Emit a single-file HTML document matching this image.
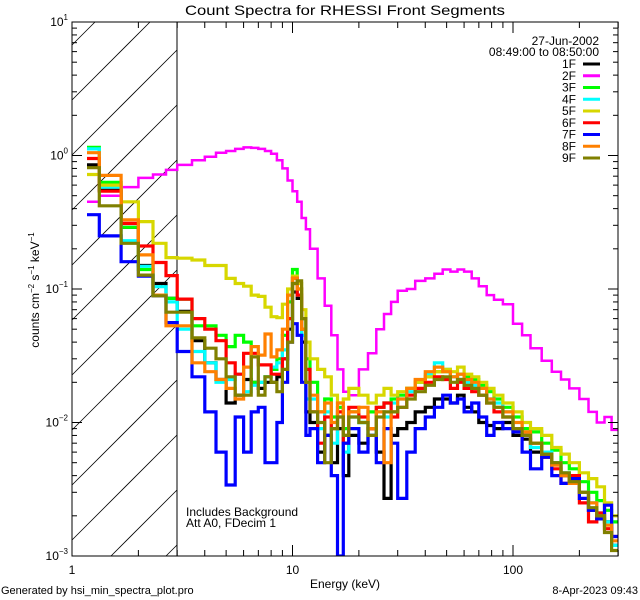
<!DOCTYPE html>
<html><head><meta charset="utf-8"><style>
html,body{margin:0;padding:0;background:#fff;width:640px;height:600px;overflow:hidden;}
svg{display:block;font-family:"Liberation Sans",sans-serif;}
</style></head><body>
<svg id="chart" width="640" height="600" viewBox="0 0 640 600" xmlns="http://www.w3.org/2000/svg">
<rect width="640" height="600" fill="#fff"/>
<text x="345" y="15" font-size="14" text-anchor="middle" textLength="320" lengthAdjust="spacingAndGlyphs">Count Spectra for RHESSI Front Segments</text>
<defs><clipPath id="pclip"><rect x="72" y="22" width="546" height="534"/></clipPath></defs>
<g id="hatch" stroke="#000" stroke-width="0.8"></g>
<line x1="177" y1="22" x2="177" y2="556" stroke="#000" stroke-width="1"/>
<g id="series" clip-path="url(#pclip)"></g>
<g id="axes" stroke="#000" stroke-width="1"></g>
<g id="labels" font-size="12"></g>
<text x="345" y="588" font-size="12" text-anchor="middle">Energy (keV)</text>
<text transform="translate(39,290) rotate(-90)" font-size="12" text-anchor="middle">counts cm<tspan font-size="8" dy="-5">−2</tspan><tspan dy="5"> s</tspan><tspan font-size="8" dy="-5">−1</tspan><tspan dy="5"> keV</tspan><tspan font-size="8" dy="-5">−1</tspan></text>
<text x="186" y="516" font-size="12">Includes Background</text>
<text x="186" y="527" font-size="12">Att A0, FDecim 1</text>
<text x="599" y="45" font-size="12" text-anchor="end">27-Jun-2002</text>
<text x="599" y="56" font-size="12" text-anchor="end">08:49:00 to 08:50:00</text>
<g id="legend" font-size="12"></g>
<text x="1" y="594" font-size="11">Generated by hsi_min_spectra_plot.pro</text>
<text x="638" y="594" font-size="11" text-anchor="end">8-Apr-2023 09:43</text>
</svg>
<script>
const edges=[1.17,1.33,1.67,2,2.33,2.67,3,3.5,4,4.5,5,5.5,6,6.5,7,7.5,8,8.5,9,9.5,10,10.5,11,11.5,12,13,14,15,16,17,18,20,22,24,26,28,30,33,36,40,44,48,52,56,60,65,70,76,82,90,100,110,120,135,150,165,180,200,220,240,260,280,300];
const seriesNames=["1F","2F","3F","4F","5F","6F","7F","8F","9F"];
const seriesColors=["#000000","#ff00ff","#00ff00","#00ffff","#d7d700","#ff0000","#0000ff","#ff8000","#808000"];
const s1F=[0.85,0.55,0.29,0.15,0.11,0.085,0.068,0.041,0.028,0.021,0.014,0.016,0.021,0.02,0.018,0.02,0.02,0.022,0.03,0.05,0.095,0.085,0.04,0.012,0.01,0.006,0.008,0.005,0.009,0.004,0.008,0.007,0.009,0.006,0.0027,0.008,0.009,0.01,0.012,0.013,0.015,0.015,0.014,0.016,0.013,0.012,0.01,0.0095,0.009,0.01,0.008,0.0075,0.006,0.0055,0.005,0.004,0.0038,0.003,0.0022,0.0019,0.0018,0.0012];
const s2F=[0.45,0.5,0.58,0.68,0.72,0.78,0.85,0.92,0.98,1.05,1.08,1.12,1.15,1.14,1.12,1.08,1.03,0.92,0.8,0.65,0.54,0.45,0.34,0.28,0.2,0.12,0.075,0.045,0.025,0.017,0.016,0.025,0.033,0.05,0.065,0.08,0.097,0.1,0.115,0.12,0.13,0.14,0.135,0.14,0.135,0.12,0.105,0.09,0.083,0.077,0.055,0.045,0.036,0.029,0.024,0.021,0.018,0.015,0.012,0.01,0.011,0.0088];
const s3F=[1.15,0.63,0.29,0.14,0.09,0.085,0.084,0.053,0.053,0.045,0.037,0.045,0.04,0.02,0.02,0.022,0.025,0.03,0.045,0.08,0.14,0.1,0.06,0.03,0.02,0.012,0.015,0.011,0.013,0.009,0.012,0.01,0.012,0.013,0.014,0.015,0.016,0.018,0.02,0.022,0.024,0.024,0.022,0.023,0.022,0.021,0.019,0.017,0.015,0.013,0.011,0.009,0.0085,0.007,0.0062,0.005,0.0045,0.0036,0.003,0.0026,0.0022,0.0018];
const s4F=[1.12,0.58,0.23,0.148,0.104,0.08,0.05,0.034,0.028,0.02,0.021,0.023,0.017,0.019,0.02,0.022,0.026,0.028,0.035,0.06,0.11,0.09,0.045,0.015,0.015,0.009,0.012,0.007,0.011,0.006,0.011,0.01,0.008,0.012,0.011,0.014,0.015,0.017,0.02,0.023,0.028,0.025,0.022,0.021,0.02,0.019,0.016,0.015,0.014,0.012,0.009,0.008,0.0065,0.006,0.005,0.0042,0.0035,0.003,0.0025,0.0021,0.0018,0.0012];
const s5F=[0.72,0.6,0.45,0.32,0.22,0.172,0.17,0.165,0.15,0.15,0.12,0.11,0.105,0.09,0.088,0.073,0.062,0.061,0.077,0.1,0.125,0.11,0.07,0.04,0.03,0.025,0.022,0.016,0.014,0.015,0.018,0.016,0.014,0.016,0.018,0.016,0.017,0.018,0.02,0.022,0.024,0.025,0.024,0.026,0.023,0.022,0.02,0.018,0.016,0.014,0.012,0.01,0.009,0.008,0.0065,0.0058,0.005,0.0042,0.0038,0.0033,0.0025,0.002];
const s6F=[0.95,0.54,0.31,0.21,0.158,0.126,0.084,0.06,0.05,0.041,0.028,0.023,0.033,0.033,0.027,0.027,0.023,0.023,0.03,0.06,0.12,0.09,0.05,0.025,0.012,0.007,0.011,0.009,0.012,0.007,0.013,0.011,0.009,0.013,0.014,0.011,0.013,0.016,0.018,0.02,0.022,0.021,0.018,0.02,0.018,0.017,0.016,0.014,0.012,0.011,0.009,0.008,0.007,0.0055,0.0045,0.0035,0.004,0.0025,0.0018,0.0021,0.0016,0.0014];
const s7F=[0.36,0.25,0.16,0.125,0.089,0.056,0.034,0.022,0.012,0.006,0.0034,0.011,0.006,0.012,0.013,0.005,0.005,0.01,0.02,0.04,0.055,0.045,0.02,0.008,0.009,0.005,0.008,0.004,0.001,0.007,0.009,0.006,0.008,0.005,0.009,0.007,0.0027,0.006,0.009,0.011,0.013,0.016,0.014,0.015,0.012,0.014,0.011,0.008,0.01,0.009,0.0085,0.006,0.0045,0.0055,0.004,0.0035,0.0038,0.0027,0.0022,0.0019,0.0024,0.0014];
const s8F=[1.05,0.71,0.33,0.18,0.09,0.053,0.053,0.028,0.024,0.021,0.018,0.015,0.026,0.037,0.032,0.046,0.031,0.035,0.05,0.09,0.12,0.1,0.05,0.02,0.016,0.012,0.014,0.01,0.014,0.008,0.012,0.013,0.009,0.012,0.005,0.012,0.015,0.018,0.021,0.024,0.026,0.024,0.022,0.023,0.021,0.02,0.018,0.015,0.013,0.012,0.01,0.0085,0.007,0.0058,0.0048,0.004,0.0035,0.003,0.0025,0.002,0.0017,0.0013];
const s9F=[0.81,0.42,0.22,0.127,0.089,0.067,0.067,0.043,0.036,0.03,0.022,0.016,0.016,0.031,0.016,0.022,0.02,0.017,0.025,0.04,0.11,0.115,0.06,0.02,0.012,0.01,0.005,0.009,0.011,0.008,0.011,0.01,0.008,0.011,0.012,0.012,0.013,0.015,0.017,0.019,0.021,0.022,0.02,0.021,0.019,0.018,0.016,0.014,0.013,0.011,0.009,0.008,0.007,0.0058,0.005,0.0042,0.0036,0.003,0.0023,0.002,0.0015,0.0011];
const allSeries=[s1F,s2F,s3F,s4F,s5F,s6F,s7F,s8F,s9F];
const yTickExps=["1","0","−1","−2","−3"];
const xTickLabels=["1","10","100"];

const NS="http://www.w3.org/2000/svg";
const X0=72,X1=618,Y0=22,Y1=556;
const xDec=220.5, yDec=(Y1-Y0)/4;
function xs(e){return X0+xDec*Math.log10(e);}
function ys(v){return Y0+yDec*(1-Math.log10(v));}
function mk(tag,attrs,parent){const el=document.createElementNS(NS,tag);for(const k in attrs)el.setAttribute(k,attrs[k]);parent.appendChild(el);return el;}

const hatch=document.getElementById('hatch');
const HX1=177;
for(let k=-12;k<14;k++){
  const b=155+k*55; // y at x=72
  const xa=Math.max(X0, X0+b-Y1), xb=Math.min(HX1, X0+b-Y0);
  if(xa>=xb)continue;
  const l=mk('line',{x1:xa,y1:b-(xa-X0),x2:xb,y2:b-(xb-X0)},hatch);
  
  
}

const sg=document.getElementById('series');
allSeries.forEach((vals,si)=>{
  let d='';
  vals.forEach((v,i)=>{
    const xa=xs(edges[i]),xb=xs(edges[i+1]),y=Math.min(Y1,ys(v));
    d+=(i===0?'M':'L')+xa.toFixed(1)+' '+y.toFixed(1)+'L'+xb.toFixed(1)+' '+y.toFixed(1);
  });
  const p=mk('path',{d:d,fill:'none',stroke:seriesColors[si],'stroke-width':si===1?2.5:3.2,'stroke-linejoin':'miter'},sg);
  
  
});

const ax=document.getElementById('axes');
const fr=mk('rect',{x:X0,y:Y0,width:X1-X0,height:Y1-Y0,fill:'none'},ax);


for(let dec=-3;dec<=1;dec++){
  for(let m=1;m<=9;m++){
    const v=m*Math.pow(10,dec);
    if(v>10.0001)continue;
    const y=ys(v), len=m===1?10:5;
    const t1=mk('line',{x1:X0,y1:y,x2:X0+len,y2:y},ax);
    
    
    const t2=mk('line',{x1:X1,y1:y,x2:X1-len,y2:y},ax);
    
    
  }
}
for(let dec=0;dec<=2;dec++){
  for(let m=1;m<=9;m++){
    const e=m*Math.pow(10,dec);
    if(e>300)continue;
    const x=xs(e), len=m===1?11:6;
    const t1=mk('line',{x1:x,y1:Y1,x2:x,y2:Y1-len},ax);
    
    
    const t2=mk('line',{x1:x,y1:Y0,x2:x,y2:Y0+len},ax);
    
    
  }
}
const lg=document.getElementById('labels');
yTickExps.forEach((ex,i)=>{
  const y=ys(Math.pow(10,1-i));
  const t=mk('text',{x:X0-4,y:y+4,'text-anchor':'end'},lg);
  
  
  t.innerHTML='10<tspan font-size="8" dy="-6">'+ex+'</tspan>';
});
xTickLabels.forEach((s,i)=>{
  const t=mk('text',{x:xs(Math.pow(10,i)),y:574,'text-anchor':'middle'},lg);
  
  
  t.textContent=s;
});
const leg=document.getElementById('legend');
seriesNames.forEach((n,i)=>{
  const y=64+i*11.75;
  const g=mk('g',{},leg);
  
  
  const t=mk('text',{x:576,y:y+4,'text-anchor':'end'},g);
  t.textContent=n;
  mk('line',{x1:583,y1:y,x2:600,y2:y,stroke:seriesColors[i],'stroke-width':3},g);
});
</script>
</body></html>
